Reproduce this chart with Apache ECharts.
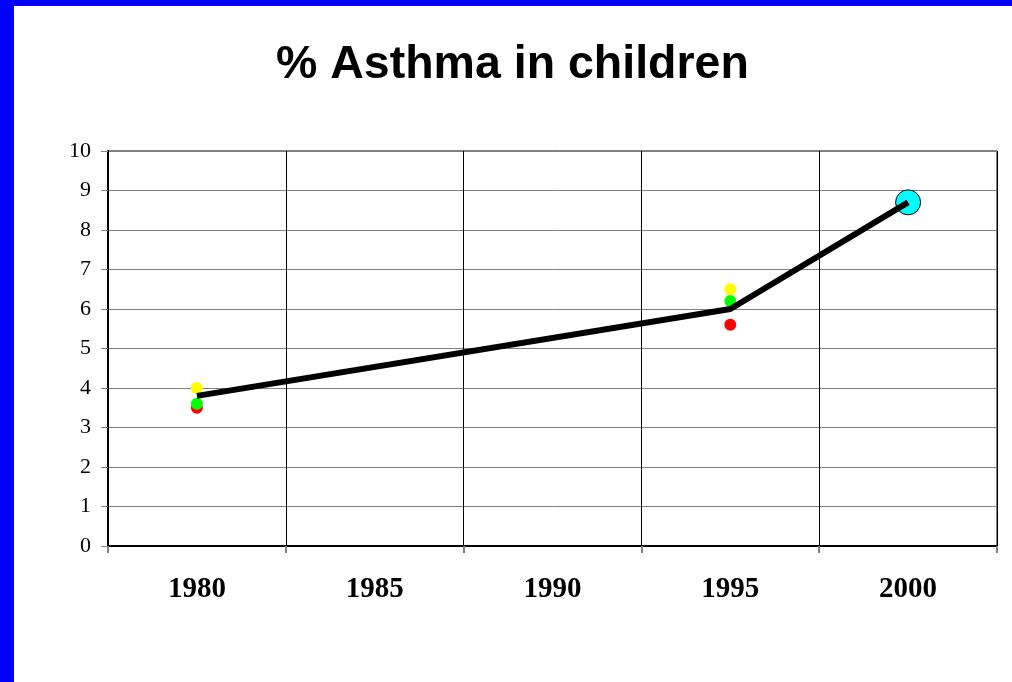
<!DOCTYPE html>
<html>
<head>
<meta charset="utf-8">
<script src="https://cdn.jsdelivr.net/npm/echarts@6/dist/echarts.min.js"></script>
<style>
html,body{margin:0;padding:0;background:#fff;}
#chart{width:1012px;height:682px;}
</style>
</head>
<body>
<div id="chart"></div>
<script>
const titleText = '% Asthma in children';
const years = ['1980', '1985', '1990', '1995', '2000'];
const trendValues = [3.8, null, null, 6.0, 8.7];
const yellowValues = [4.0, null, null, 6.5, null];
const greenValues = [3.6, null, null, 6.2, null];
const redValues = [3.5, null, null, 5.6, null];
const highlightValues = [null, null, null, null, 8.7];
const yMin = 0, yMax = 10, yStep = 1;

const chart = echarts.init(document.getElementById('chart'), null, {renderer: 'canvas'});

function dots(name, data, color, size, z, border) {
  return {
    name: name,
    type: 'scatter',
    data: data,
    symbol: 'circle',
    symbolSize: size,
    z: z,
    itemStyle: {color: color, borderColor: border ? '#000' : color, borderWidth: border ? 1 : 0, opacity: 1},
    emphasis: {disabled: true},
    silent: true
  };
}

chart.setOption({
  animation: false,
  backgroundColor: '#ffffff',
  title: {
    text: titleText,
    left: 271,
    top: 37,
    textStyle: {fontFamily: 'Liberation Sans, Arial, sans-serif', fontWeight: 'bold', fontSize: 46.5, color: '#000'}
  },
  graphic: [
    {type: 'rect', left: 0, top: 0, shape: {width: 14, height: 682}, style: {fill: '#0000ff'}, z: 100},
    {type: 'rect', left: 0, top: 0, shape: {width: 1012, height: 6}, style: {fill: '#0000ff'}, z: 100}
  ],
  grid: {
    left: 108, right: 15, top: 151, bottom: 136,
    show: true, borderColor: '#000', borderWidth: 1, backgroundColor: 'transparent'
  },
  xAxis: {
    type: 'category',
    data: years,
    boundaryGap: true,
    axisLine: {show: true, lineStyle: {color: '#000', width: 2}},
    axisTick: {show: true, alignWithLabel: false, length: 7, lineStyle: {color: '#808080', width: 2}},
    axisLabel: {margin: 29, fontFamily: 'Liberation Serif, Times New Roman, serif', fontWeight: 'bold', fontSize: 29, color: '#000'},
    splitLine: {show: true, lineStyle: {color: '#000', width: 1}}
  },
  yAxis: {
    type: 'value',
    min: yMin, max: yMax, interval: yStep,
    axisLine: {show: true, lineStyle: {color: '#000', width: 2}},
    axisTick: {show: true, length: 7, lineStyle: {color: '#808080', width: 1}},
    axisLabel: {margin: 17, fontFamily: 'Liberation Serif, Times New Roman, serif', fontSize: 22, color: '#000'},
    splitLine: {show: true, lineStyle: {color: '#808080', width: 1}}
  },
  series: [
    dots('red', redValues, '#ff0000', 12, 2, false),
    dots('green', greenValues, '#00ff00', 12, 3, false),
    dots('yellow', yellowValues, '#ffff00', 12, 4, false),
    dots('highlight', highlightValues, '#00ffff', 25, 5, true),
    {
      name: 'trend',
      type: 'line',
      data: trendValues,
      connectNulls: true,
      showSymbol: false,
      symbol: 'none',
      z: 10,
      lineStyle: {color: '#000', width: 6, cap: 'butt'},
      emphasis: {disabled: true},
      silent: true
    }
  ]
});
</script>
</body>
</html>
